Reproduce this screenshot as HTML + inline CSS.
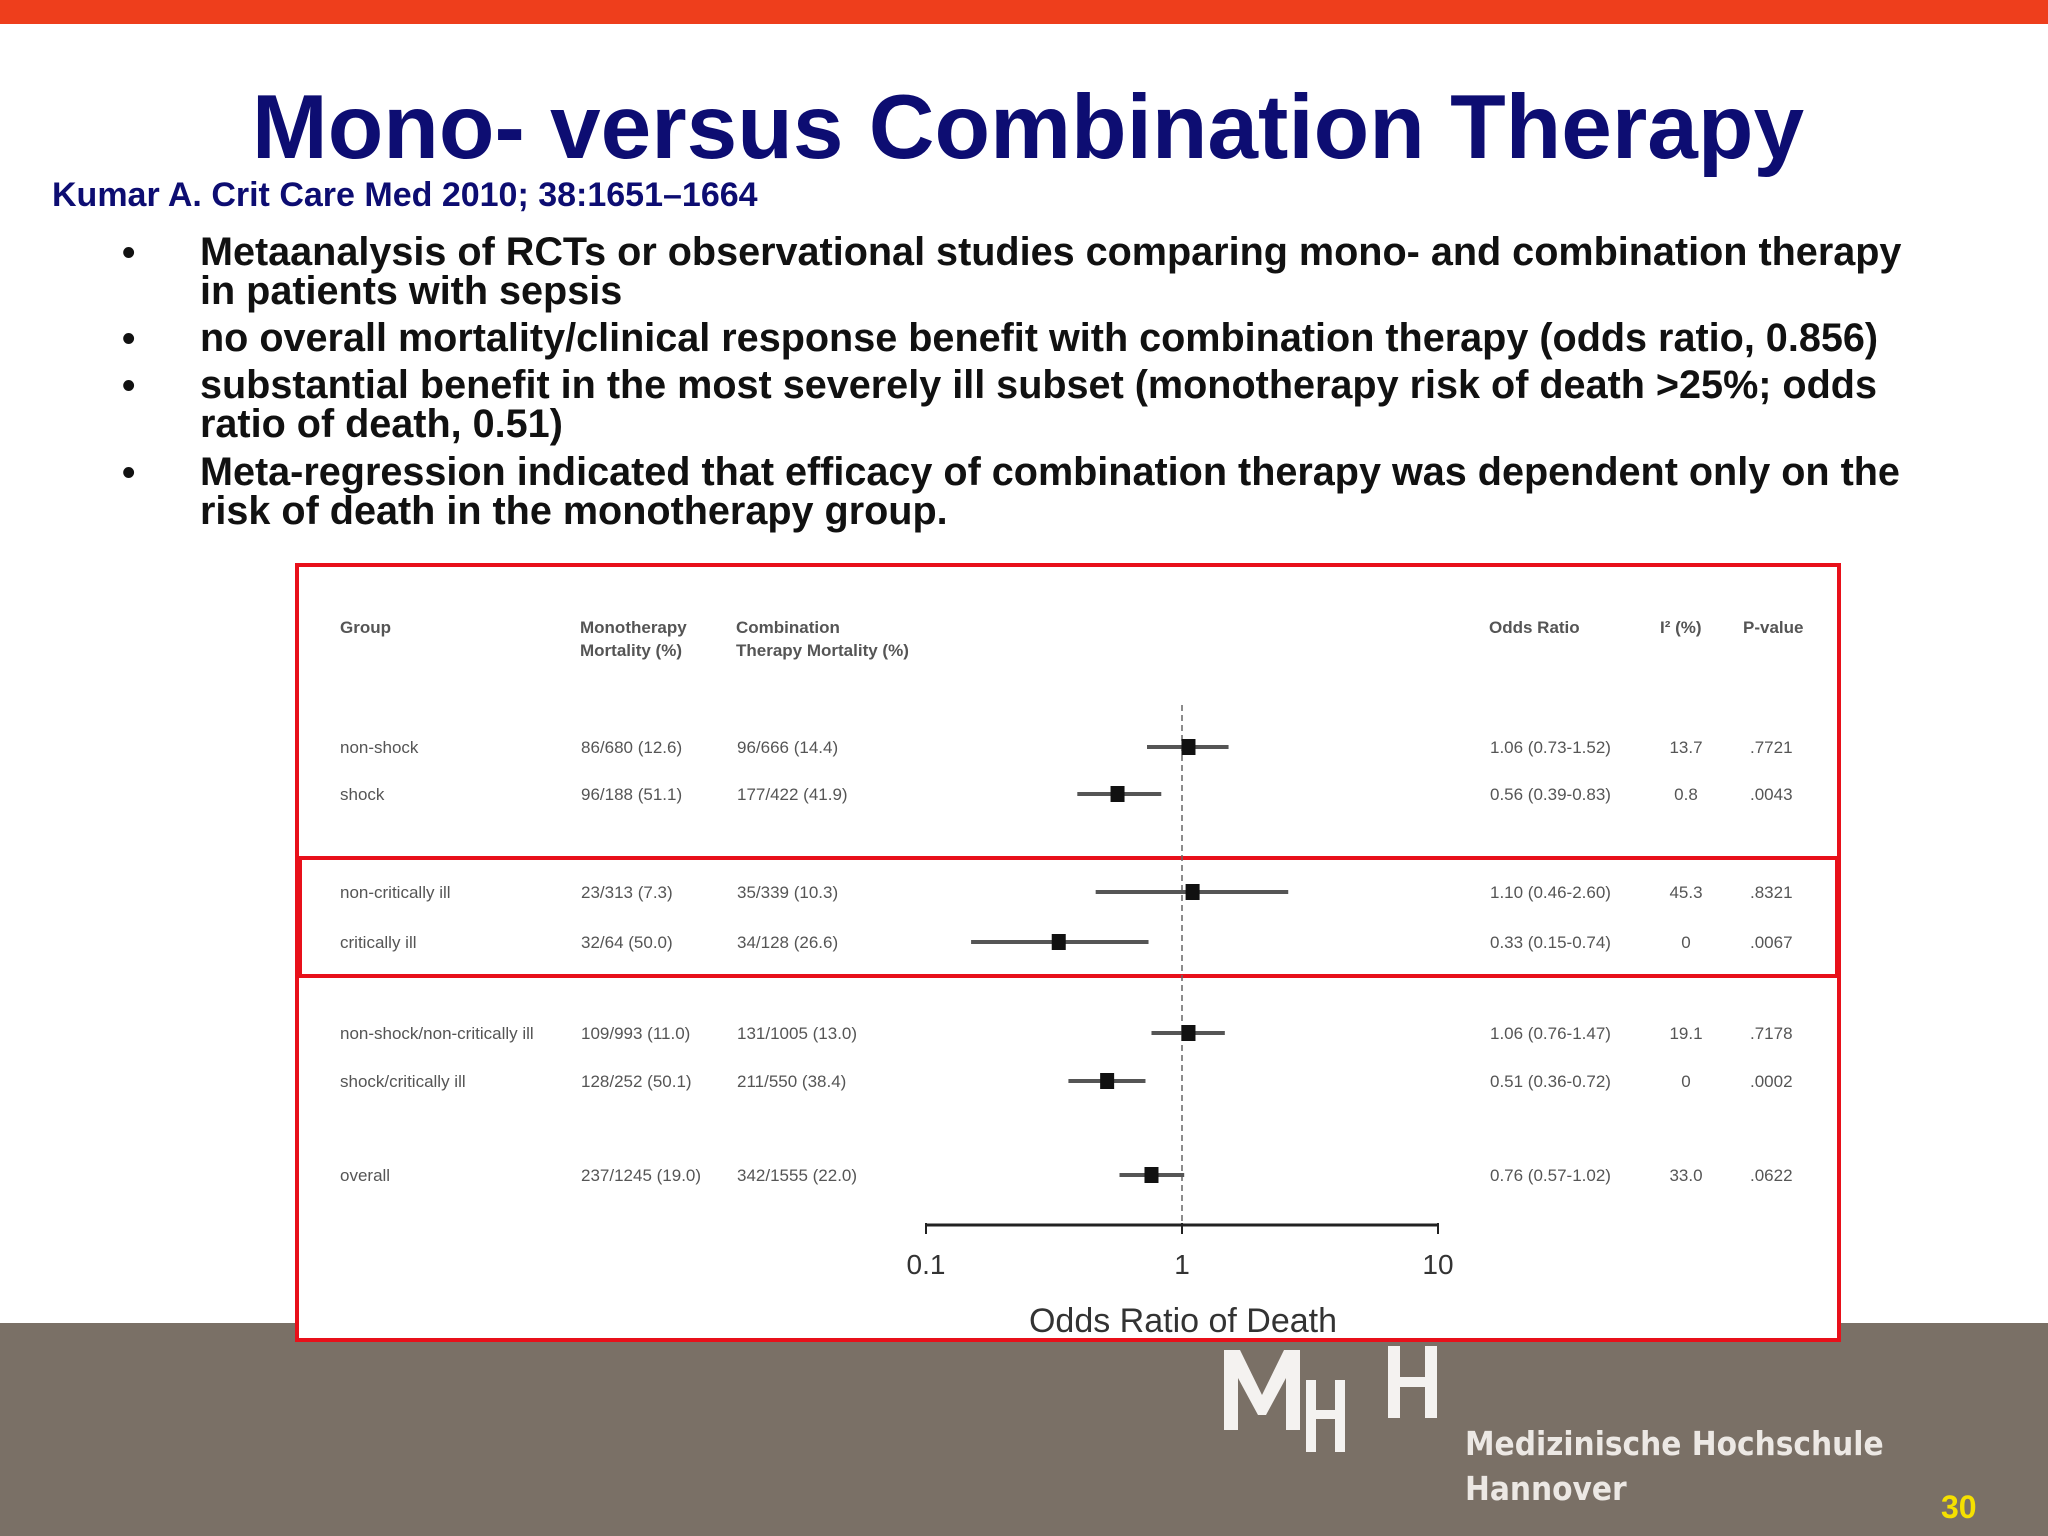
<!DOCTYPE html>
<html><head><meta charset="utf-8"><style>
html,body{margin:0;padding:0}
body{width:2048px;height:1536px;position:relative;overflow:hidden;background:#fff;font-family:"Liberation Sans",Arial,sans-serif}
.abs{position:absolute}
#title{left:0;width:2056px;top:76px;text-align:center;font-size:91px;font-weight:bold;color:#0d0d72;white-space:nowrap}
#cite{left:52px;top:176px;font-size:34px;font-weight:bold;color:#0d0d72}
.bul{left:122px;font-size:38px;font-weight:bold;color:#111}
.btxt{left:200px;font-size:39.6px;font-weight:bold;color:#111;line-height:39px;width:1720px}
</style></head><body>
<div class="abs" style="left:0;top:0;width:2048px;height:24px;background:#ee3e1c"></div>
<div class="abs" style="left:0;top:1323px;width:2048px;height:213px;background:#7a7066"></div>
<div id="title" class="abs">Mono- versus Combination Therapy</div>
<div id="cite" class="abs">Kumar A. Crit Care Med 2010; 38:1651–1664</div>
<div class="abs bul" style="top:232px">•</div>
<div class="abs btxt" style="top:233px">Metaanalysis of RCTs or observational studies comparing mono- and combination therapy in patients with sepsis</div>
<div class="abs bul" style="top:318px">•</div>
<div class="abs btxt" style="top:319px">no overall mortality/clinical response benefit with combination therapy (odds ratio, 0.856)</div>
<div class="abs bul" style="top:365px">•</div>
<div class="abs btxt" style="top:366px">substantial benefit in the most severely ill subset (monotherapy risk of death &gt;25%; odds ratio of death, 0.51)</div>
<div class="abs bul" style="top:452px">•</div>
<div class="abs btxt" style="top:453px">Meta-regression indicated that efficacy of combination therapy was dependent only on the risk of death in the monotherapy group.</div>

<svg class="abs" style="left:0;top:0" width="2048" height="1536">
<rect x="297" y="565" width="1542" height="775" fill="#fff" stroke="#e8101a" stroke-width="4"/>
<rect x="300" y="858" width="1537" height="118" fill="none" stroke="#e8101a" stroke-width="4"/>
<g id="plot" font-family="Liberation Sans, Arial, sans-serif" font-size="17" fill="#555"></g>
<g fill="#f4f2f0">
<path d="M1224 1430 V1350 H1240 L1262 1395 L1284 1350 H1300 V1430 H1286 V1378 L1266 1415 H1258 L1238 1378 V1430 Z"/>
<rect x="1306" y="1380" width="10" height="72"/><rect x="1335" y="1380" width="10" height="72"/><rect x="1306" y="1410" width="39" height="9"/>
<rect x="1388" y="1346" width="12" height="72"/><rect x="1425" y="1346" width="12" height="72"/><rect x="1388" y="1377" width="49" height="10"/>
</g>
<text x="1465" y="1455" font-family="DejaVu Sans Condensed, DejaVu Sans, sans-serif" font-weight="bold" font-size="33" fill="#ece8e4">Medizinische Hochschule</text>
<text x="1465" y="1500" font-family="DejaVu Sans Condensed, DejaVu Sans, sans-serif" font-weight="bold" font-size="33" fill="#ece8e4">Hannover</text>
<text x="1941" y="1518" font-family="Liberation Sans, sans-serif" font-weight="bold" font-size="32" fill="#f5e000">30</text>
</svg>
<script>
const groups=["non-shock","shock","non-critically ill","critically ill","non-shock/non-critically ill","shock/critically ill","overall"];
const mono=["86/680 (12.6)","96/188 (51.1)","23/313 (7.3)","32/64 (50.0)","109/993 (11.0)","128/252 (50.1)","237/1245 (19.0)"];
const combo=["96/666 (14.4)","177/422 (41.9)","35/339 (10.3)","34/128 (26.6)","131/1005 (13.0)","211/550 (38.4)","342/1555 (22.0)"];
const orv=[1.06,0.56,1.10,0.33,1.06,0.51,0.76];
const lo=[0.73,0.39,0.46,0.15,0.76,0.36,0.57];
const hi=[1.52,0.83,2.60,0.74,1.47,0.72,1.02];
const i2=["13.7","0.8","45.3","0","19.1","0","33.0"];
const pv=[".7721",".0043",".8321",".0067",".7178",".0002",".0622"];
const ticks=[0.1,1,10];
const rowY=[747,794,892,942,1033,1081,1175];
const X=v=>1182+256*Math.log10(v);
const g=document.getElementById('plot');
const NS='http://www.w3.org/2000/svg';
function el(t,a,txt){const e=document.createElementNS(NS,t);for(const k in a)e.setAttribute(k,a[k]);if(txt!==undefined)e.textContent=txt;g.appendChild(e);return e;}
function tx(x,y,s,anchor,name,extra){const e=el('text',Object.assign({x:x,y:y,'text-anchor':anchor||'start'},extra||{}),s);return e;}
const hb={'font-weight':'bold'};
tx(340,633,"Group","start","header-group",hb);
tx(580,633,"Monotherapy","start","header-mono",hb);tx(580,656,"Mortality (%)","start","header-mono-2",hb);
tx(736,633,"Combination","start","header-combo",hb);tx(736,656,"Therapy Mortality (%)","start","header-combo-2",hb);
tx(1489,633,"Odds Ratio","start","header-or",hb);tx(1660,633,"I² (%)","start","header-i2",hb);tx(1743,633,"P-value","start","header-p",hb);
const ref=el('line',{x1:X(1),x2:X(1),y1:705,y2:1225,stroke:'#666','stroke-width':1.5,'stroke-dasharray':'6,4'});

for(let i=0;i<groups.length;i++){
 const y=rowY[i];
 tx(340,y+6,groups[i],"start","group-label");
 tx(581,y+6,mono[i],"start","mono-value");
 tx(737,y+6,combo[i],"start","combo-value");
 tx(1490,y+6,orv[i].toFixed(2)+" ("+lo[i].toFixed(2)+"-"+hi[i].toFixed(2)+")","start","or-value");
 tx(1686,y+6,i2[i],"middle","i2-value");
 tx(1750,y+6,pv[i],"start","p-value");
 const ci=el('line',{x1:X(lo[i]),x2:X(hi[i]),y1:y,y2:y,stroke:'#555','stroke-width':4});
 
 const sq=el('rect',{x:X(orv[i])-7,y:y-8,width:14,height:16,fill:'#111'});
 
}
const ax=el('line',{x1:X(0.1),x2:X(10),y1:1225,y2:1225,stroke:'#222','stroke-width':3});

ticks.forEach(t=>{
 const tk=el('line',{x1:X(t),x2:X(t),y1:1223,y2:1234,stroke:'#222','stroke-width':2});
 
 tx(X(t),1274,String(t),"middle","x-tick-label",{'font-size':28,fill:'#333'});
});
tx(1183,1332,"Odds Ratio of Death","middle","x-axis-title",{'font-size':34,fill:'#333'});
</script>
</body></html>
